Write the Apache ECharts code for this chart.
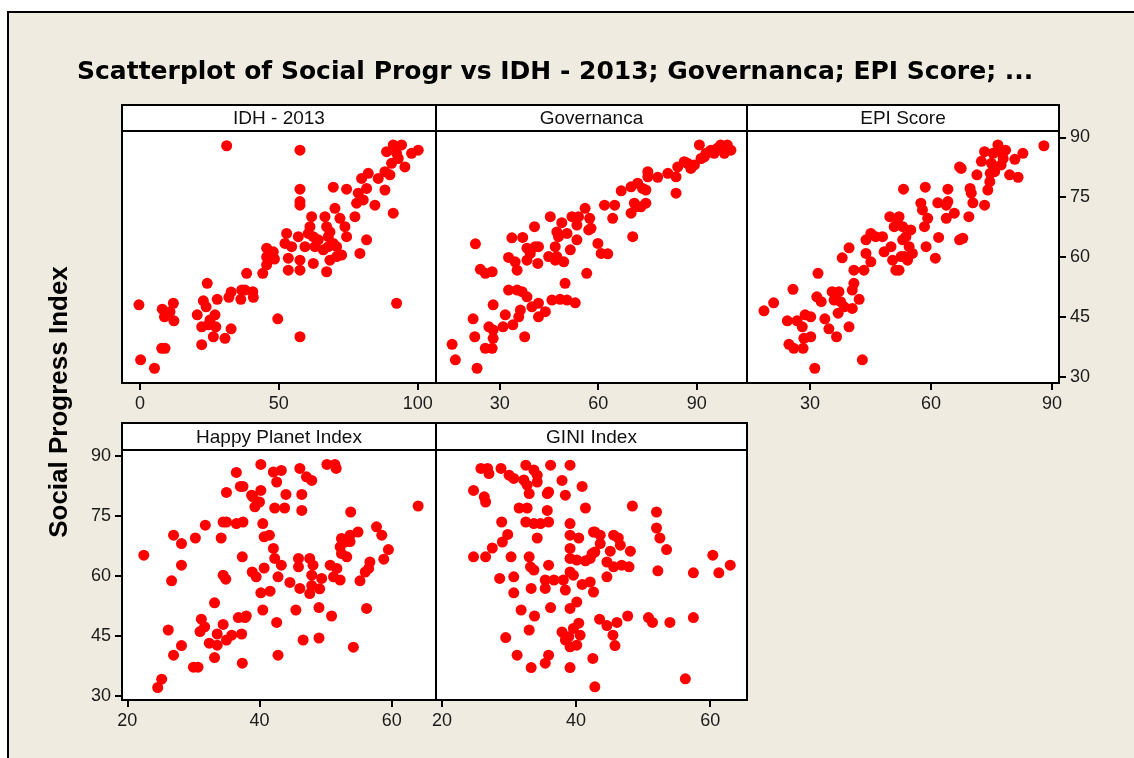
<!DOCTYPE html>
<html>
<head>
<meta charset="utf-8">
<script src="https://cdn.jsdelivr.net/npm/echarts@6/dist/echarts.min.js"></script>
<style>
  html, body { margin: 0; padding: 0; background: #fff; overflow: hidden; }
  #frame { position: absolute; left: 7px; top: 11px; width: 1400px; height: 1000px;
           background: #EFEBE1; border-left: 2px solid #000; border-top: 2px solid #000; }
  #chart { position: absolute; left: 0; top: 0; width: 1134px; height: 758px; }
</style>
</head>
<body>
<div id="frame"></div>
<div id="chart"></div>
<script>
// [x, Social Progress Index] pairs
const idhPoints = [
  [31.2,87.9],[-0.4,48],[0.2,34.2],[5.2,32.1],[7.8,37.1],[9.0,37.1],[8,46.9],[8.8,45],[12,48.4],[12.2,44],[10.8,46.3],
  [24.2,53.4],[22.2,38],[20.6,45.5],[22.8,49],[23.8,47.5],[22.2,42.5],[24.6,43],[27,45.5],[27.3,42.5],[26.4,40],[25.2,44.2],
  [27.8,49.4],[30.6,39.6],[32.8,42],[32,49.9],[32.8,51.2],[36.3,49.4],[36.6,51.7],[37.8,51.7],[40.6,51.3],[40.8,49.9],
  [38.4,55.9],[44.2,55.9],[45.6,58],[45.6,62.2],[48,61.3],[45.6,60],[48.4,59.5],[49.6,44.5],
  [57.6,86.8],[57.6,77],[57.6,73.9],[57.6,73],[57.6,40],[92.4,48.4],
  [52.8,65.9],[52.2,63.4],[54.6,62.6],[53.4,59.7],[53.4,56.7],[57,65.1],[57.6,59.2],[57.6,56.7],[59.4,62.6],[61.8,70.1],
  [61.2,67.6],[60.6,65.9],[62.4,65.1],[63,62.6],[62.4,58.4],[64.2,64.3],[66,61.8],[66.6,70.1],[67.2,67.6],[67.8,65.1],
  [67.8,62.6],[68.4,66.3],[69.6,63.4],[70.2,72.2],[70.8,62.6],[72,69.7],[72.6,60.5],[70.8,60.1],[68.4,59.2],[67.2,56.3],
  [73.8,67.6],[74.4,65.1],[81.6,64.3],[79.2,60.9],[77.4,70.1],[69.6,77.5],[74.4,77],
  [78,73.5],[78.6,76],[79.8,79.7],[82.2,81],[81.6,77.2],[80.4,74.3],[84.6,73],[85.8,79.7],[88.2,81.4],[90,80.6],
  [88.2,76.8],[91.2,71],[88.8,86.4],[91.2,88.1],[94.2,88.1],[92.4,86],[93,84.7],[95.4,82.6],[97.8,86],[100.2,86.8],[90.6,83.5]
];
const govPoints = [
  [15.5,38.1],[16.5,34.2],[23.1,32.1],[22.6,63.3],[24.1,56.9],[25.6,55.9],[27.7,56.3],[21.9,44.5],[22.4,40],[25.6,37.1],
  [27.7,37.1],[28,48],[26.7,42.5],[28,41.7],[28,39.6],[31,42.5],[31.7,45.5],[32.7,51.7],[35.3,51.7],[36.8,51.3],[38.3,50],
  [34,43],[35.8,45],[36.3,46.7],[37.6,40],[39.8,47.5],[41.8,48.4],[41.8,45],[43.9,46.3],[45.9,49.2],[48.4,49.4],[50.5,49.2],
  [53,48.5],[49.9,53.4],[32.7,59.9],[34.7,58.8],[35.3,56.7],[33.7,64.8],[37,64.9],[38.3,62.2],[39.3,60.9],[38.3,59.2],
  [40.8,62.6],[41.8,62.6],[41.6,58.4],[40.6,67.6],[45.4,70.1],[44.9,60.1],[46.9,59.2],[49.5,58.8],[47.4,60.1],[46.9,62.6],
  [47.9,65.1],[47.4,66.3],[48.9,68.6],[50.5,65.9],[51.5,61.8],[53.5,64.3],[52,70.1],[54,70.1],[56,72.2],[53.5,68],
  [57.1,66.8],[56.5,55.9],[57.4,69.7],[57.8,67.2],[59.9,63.4],[60.9,60.9],[62.9,60.8],[61.9,73],[65,73],[64.4,69.7],
  [67,76.6],[70.5,65.1],[70,71],[71,73.5],[70,77.6],[72,78.5],[73.5,77.2],[74.5,76.8],[74.5,73.5],[73,72.6],[71.5,72.6],
  [75.1,81.4],[75.1,80.1],[78.1,80],[81.2,81],[83.7,80.1],[83.7,76],[84.2,82.6],[86.2,83.9],[87.2,83.5],[88.2,82.2],
  [89.3,83.1],[90.8,88.1],[91.3,84.7],[92.8,86],[94.3,86.8],[96.3,87.3],[97.3,88.1],[99.3,88.1],[100.4,86.8],[98.4,86],
  [95.3,86],[92.3,85.1]
];
const epiPoints = [
  [18.6,46.5],[21,48.5],[25.8,51.9],[24.4,44],[26.8,44],[28.1,42.5],[28.8,45.5],[30.2,45],[24.8,38.1],[26,37.1],[28.3,37.1],
  [28.5,39.6],[30.2,40],[31.2,32.1],[32,55.9],[31.7,50],[32.8,48.8],[33.7,44.5],[34.7,42],[36.6,40],[35.5,51.3],[37.2,51.3],
  [36,49.2],[37.6,48.8],[37,45.9],[38.5,47.5],[40.5,47.1],[42.2,49.4],[39.7,42.5],[40.9,53.4],[40.5,51.7],[43,34.2],
  [40.9,56.7],[43.4,56.7],[43.9,60.9],[45.1,58.8],[38,59.8],[39.7,62.3],[43.9,64.3],[45.1,65.9],[46.3,65.1],[48,65.1],
  [48.4,61.3],[50.1,62.6],[49.8,70.1],[50.9,67.6],[51.7,69.3],[51.3,56.7],[50.5,59.2],[52.6,60.1],[53,64.3],[53.2,77],
  [52.1,70.1],[53,67.6],[53.8,65.1],[54.6,62.6],[53.4,60.1],[52.1,56.7],[55,66.8],[55.4,60.9],[54.2,59.2],[57.5,73.5],
  [57.9,71.8],[58.4,67.6],[59.2,69.7],[58.8,62.6],[58.6,77.5],[61.1,59.7],[61.9,64.9],[61.7,73.6],[63.8,73],[64.2,73.9],
  [64.2,77],[63.8,69.7],[65.8,71],[67.1,64.3],[67.9,64.7],[67.1,82.6],[67.5,82.2],[69.4,70.1],
  [69.7,77.2],[70,76],[70.4,73.6],[71.4,80.6],[72.5,84],[73.3,86.4],[73.3,73],[74.1,76.8],[74.6,78.9],[74.7,81],[75,83.5],
  [75.8,81.4],[75.4,86],[76.6,88.1],[77,86.4],[77.9,84.7],[78.5,86.8],[77.4,83.1],[79.5,80.6],[81.6,80],[80.8,84.5],
  [82.8,86],[88,87.9]
];
const happyPoints = [
  [22.5,65.2],[24.6,32.1],[25.2,34.2],[26.2,46.5],[27,40.2],[26.7,58.8],[27,70.2],[28.2,68.1],[28.2,62.7],[28.2,42.6],
  [30.3,69.5],[30,37.2],[30.7,37.2],[31.2,49.2],[31,46.1],[31.7,47.3],[31.8,72.7],[32.4,43.2],[33.6,42.7],[33.2,39.6],
  [33.6,45.5],[33.2,53.3],[34.5,47.9],[34.2,69.5],[34.5,73.5],[35,73.5],[35,80.9],[34.5,60.2],[34.9,59.2],[35,44],
  [35.8,45.2],[37.3,45.5],[36.5,85.9],[37.1,82.4],[37.5,82.4],[36.5,73.1],[37.5,73.5],[37.4,64.8],[36.8,49.6],[37.8,49.6],
  [38,50],[37.4,38.2],[38.8,80.2],[39.3,77.3],[40,78.5],[40.2,81.4],[39,79.8],[40.2,87.9],[38.9,61],[39.5,59.8],[40.7,62],
  [40.5,73.1],[40.7,69.8],[41.5,70.2],[40.2,55.8],[41.6,56.2],[40.5,51.5],
  [42.1,86],[43.3,86.4],[42.6,83.5],[46.1,86.9],[47.1,84.8],[47.9,83.9],[50.2,87.9],[51.4,87.9],[51.6,86.9],[44,80.4],
  [46.4,80.4],[42.3,77],[43.8,77],[46.4,76.4],[53.8,76],[64,77.5],[42.1,66.9],[42.3,64.4],[43.3,62.7],[42.8,59.8],
  [44.6,58.4],[46.1,56.9],[45.9,64.4],[45.9,62.3],[47.6,64.4],[48.1,62.7],[47.9,60.2],[49.4,59.4],[47.9,57.6],[49.1,56.8],
  [47.6,55.6],[50.7,62.7],[51.7,61.9],[51.2,59.8],[52.2,59],[45.5,51.5],[49,52.1],[50.9,50],[42.6,48.4],[46.6,44],
  [49,44.5],[42.8,40.2],[54.2,42.2],[52.4,69.4],[52.9,68.5],[53.7,70.2],[54.9,71],[53.7,68.6],[52.2,67.3],[52.4,65.6],
  [53.2,64.8],[57.7,72.3],[58.5,70.2],[59.5,66.6],[58.8,64.2],[56.7,63.5],[56.5,61.9],[56,61],[55.2,58.8],[56.2,51.9]
];
const giniPoints = [
  [25.8,86.9],[26.8,86.9],[27,85.6],[28.8,86.9],[30,85.2],[30.7,84.4],[32.2,84],[32.5,87.7],[33.7,86.5],[34.2,85.2],
  [34.2,83.5],[32.7,82.7],[33,80.6],[36.2,87.7],[39.1,87.7],[37.9,83.9],[40.9,82.4],[35.7,80.6],[35.9,81],[38.4,80.2],
  [24.7,81.4],[26.3,79.8],[26.5,78.5],[31.5,77],[32.7,77],[35.7,76.4],[41.4,77],[28.9,73.5],[32.5,73.5],[33.7,73.1],
  [34.7,73.1],[35.9,73.5],[34.2,69.5],[39.1,73.1],[39.1,70.2],[40.4,69.5],[42.6,71],[29.8,70.4],[29,68.5],[27.5,67],
  [24.7,64.8],[26.5,64.8],[30.3,64.8],[33,64.8],[33.2,62.3],[33.7,61.5],[35.9,62.7],[39.1,66.9],[39.1,64.4],[40.1,64],
  [41.4,63.8],[42.4,65.6],[28.6,59.4],[30.7,59.8],[30.7,55.8],[33.3,56.9],[35.4,59],[35.4,56.9],[36.7,59],[38.1,59],
  [38.4,56.5],[39.1,61],[39.6,60.2],[40.9,57.9],[42.1,58.5],[42.6,56],[31.8,51.5],[33.8,50],[36.2,52.1],[39.1,51.9],
  [40.1,53.5],[29.5,44.6],[33,46.5],[37.9,46],[38.4,44],[39.6,46.9],[40.4,48.2],[40.6,45.2],[40.1,42.7],[39.1,42.3],
  [38.9,44.8],[31.2,40.2],[33.3,37.1],[35.4,38.2],[35.9,40.2],[39.1,37.1],[42.5,39.4],[42.8,32.3],
  [48.4,77.5],[52,76],[52,72],[52.5,69.5],[53.5,66.6],[52.2,61.3],[57.5,60.8],[60.4,65.2],[61.3,60.8],[63,62.7],
  [42.8,71],[43.6,70.2],[43.6,68.1],[42.8,66],[42.1,64.4],[45.6,70.2],[46.3,69.5],[46.6,67.7],[45.1,66.2],[44.6,63.5],
  [45.6,62.3],[46.8,62.7],[47.9,62.3],[48.1,66.2],[44.6,59.8],[43.5,49.2],[44.6,47.6],[46.1,48.4],[47.7,50],[45.5,45.2],
  [45.8,42.6],[50.8,49.6],[51.4,48.4],[54,48.4],[57.5,49.6],[56.3,34.3]
];

const panelTitles = ['IDH - 2013', 'Governanca', 'EPI Score', 'Happy Planet Index', 'GINI Index'];
const xTickValues = [[0, 50, 100], [30, 60, 90], [30, 60, 90], [20, 40, 60], [20, 40, 60]];
const yTickValues = [30, 45, 60, 75, 90];

const panelData = [idhPoints, govPoints, epiPoints, happyPoints, giniPoints];
const xRanges = [[-6.5, 106.6], [10.6, 105.3], [14.4, 91.75], [19.2, 66.7], [19.1, 65.5]];
const grids = [
  { left: 122, top: 131, width: 314, height: 252 },
  { left: 436, top: 131, width: 311, height: 252 },
  { left: 747, top: 131, width: 312, height: 252 },
  { left: 122, top: 450, width: 314, height: 250 },
  { left: 436, top: 450, width: 311, height: 250 }
];
const headerTops = [105, 105, 105, 423, 423];

const tickFont = { color: '#1a1a1a', fontSize: 18, fontFamily: 'Liberation Sans' };

var myChart = echarts.init(document.getElementById('chart'));

const xAxes = grids.map((g, i) => ({
  type: 'value', gridIndex: i, min: xRanges[i][0], max: xRanges[i][1],
  axisLine: { show: true, onZero: false, lineStyle: { color: '#000', width: 2 } },
  axisTick: { show: true, length: 7, customValues: xTickValues[i], lineStyle: { color: '#000', width: 2 } },
  axisLabel: Object.assign({ margin: 12, customValues: xTickValues[i] }, tickFont),
  splitLine: { show: false }
}));

const yAxes = grids.map((g, i) => {
  const top = i < 3;
  const labelled = i === 2 || i === 3;
  return {
    type: 'value', gridIndex: i,
    min: top ? 28.4 : 29, max: top ? 91.6 : 91.5,
    position: i === 2 ? 'right' : 'left',
    axisLine: { show: true, onZero: false, lineStyle: { color: '#000', width: 2 } },
    axisTick: { show: labelled, length: 7, customValues: yTickValues, lineStyle: { color: '#000', width: 2 } },
    axisLabel: Object.assign({ show: labelled, margin: 11, customValues: yTickValues }, tickFont),
    splitLine: { show: false }
  };
});

const headers = [];
grids.forEach((g, i) => {
  headers.push({
    type: 'rect', shape: { x: g.left, y: headerTops[i], width: g.width, height: g.top - headerTops[i] },
    style: { fill: '#fff', stroke: '#000', lineWidth: 2 }
  });
  headers.push({
    type: 'text', x: g.left + g.width / 2, y: (headerTops[i] + g.top) / 2 + 1,
    style: { text: panelTitles[i], fill: '#111', font: '19px "Liberation Sans"', textAlign: 'center', textVerticalAlign: 'middle' }
  });
});
headers.push({
  type: 'text', x: 60, y: 402, rotation: Math.PI / 2,
  style: { text: 'Social Progress Index', fill: '#000', font: 'bold 26px "Liberation Sans"', textAlign: 'center', textVerticalAlign: 'middle' }
});

myChart.setOption({
  animation: false,
  backgroundColor: 'transparent',
  title: {
    text: 'Scatterplot of Social Progr vs IDH - 2013; Governanca; EPI Score; ...',
    left: 72, top: 55,
    textStyle: { fontSize: 25, fontWeight: 'bold', fontFamily: 'DejaVu Sans', color: '#000' }
  },
  grid: grids.map(g => Object.assign({ show: true, backgroundColor: '#fff', borderColor: '#000', borderWidth: 2 }, g)),
  xAxis: xAxes,
  yAxis: yAxes,
  graphic: { elements: headers },
  series: panelData.map((d, i) => ({
    type: 'scatter', xAxisIndex: i, yAxisIndex: i,
    symbol: 'circle', symbolSize: 11,
    itemStyle: { color: '#FF0000', opacity: 1 },
    data: d
  }))
});
</script>
</body>
</html>
